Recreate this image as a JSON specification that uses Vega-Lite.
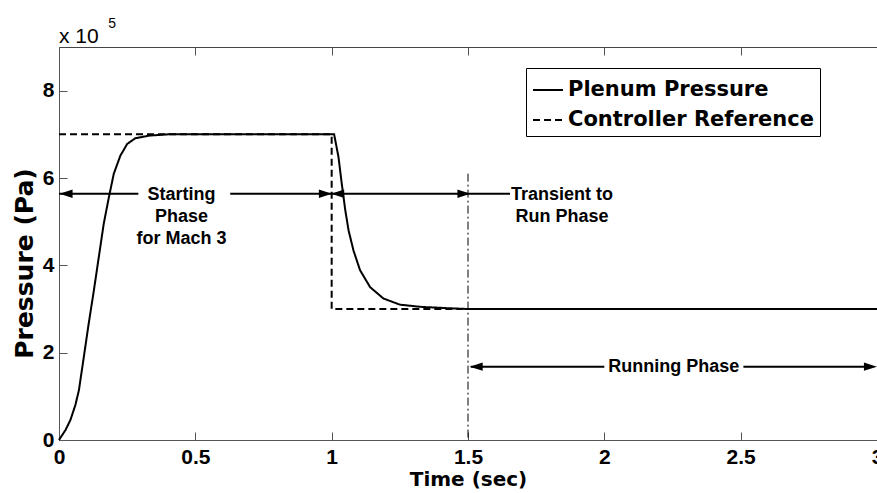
{
  "$schema": "https://vega.github.io/schema/vega-lite/v6.json",
  "width": 818,
  "height": 393,
  "autosize": "none",
  "padding": {"left": 59, "top": 47, "right": 0, "bottom": 53},
  "background": "white",
  "config": {
    "view": {"stroke": "#444", "strokeWidth": 1},
    "font": "Liberation Sans",
    "axis": {
      "grid": false,
      "domainColor": "#555",
      "tickColor": "#555",
      "tickSize": -8,
      "labelFlush": false,
      "labelFont": "Liberation Sans",
      "labelFontWeight": "bold",
      "labelFontSize": 21,
      "labelColor": "black",
      "titleFont": "DejaVu Sans",
      "titleFontWeight": "bold",
      "titleFontSize": 20,
      "titleColor": "black"
    },
    "text": {"font": "Liberation Sans", "fontWeight": "bold", "color": "black"}
  },
  "datasets": {
    "curves": [
      {"series": "Plenum Pressure", "o": 1, "t": 0, "p": 0},
      {"series": "Plenum Pressure", "o": 2, "t": 0.024, "p": 23000},
      {"series": "Plenum Pressure", "o": 3, "t": 0.042, "p": 46000},
      {"series": "Plenum Pressure", "o": 4, "t": 0.06, "p": 80000},
      {"series": "Plenum Pressure", "o": 5, "t": 0.073, "p": 114000},
      {"series": "Plenum Pressure", "o": 6, "t": 0.091, "p": 190000},
      {"series": "Plenum Pressure", "o": 7, "t": 0.109, "p": 267000},
      {"series": "Plenum Pressure", "o": 8, "t": 0.128, "p": 343000},
      {"series": "Plenum Pressure", "o": 9, "t": 0.146, "p": 419000},
      {"series": "Plenum Pressure", "o": 10, "t": 0.164, "p": 495000},
      {"series": "Plenum Pressure", "o": 11, "t": 0.183, "p": 556000},
      {"series": "Plenum Pressure", "o": 12, "t": 0.201, "p": 610000},
      {"series": "Plenum Pressure", "o": 13, "t": 0.225, "p": 651000},
      {"series": "Plenum Pressure", "o": 14, "t": 0.25, "p": 678000},
      {"series": "Plenum Pressure", "o": 15, "t": 0.28, "p": 691000},
      {"series": "Plenum Pressure", "o": 16, "t": 0.33, "p": 697000},
      {"series": "Plenum Pressure", "o": 17, "t": 0.4, "p": 700000},
      {"series": "Plenum Pressure", "o": 18, "t": 1.009, "p": 700000},
      {"series": "Plenum Pressure", "o": 19, "t": 1.025, "p": 648000},
      {"series": "Plenum Pressure", "o": 20, "t": 1.037, "p": 587000},
      {"series": "Plenum Pressure", "o": 21, "t": 1.05, "p": 526000},
      {"series": "Plenum Pressure", "o": 22, "t": 1.062, "p": 480000},
      {"series": "Plenum Pressure", "o": 23, "t": 1.08, "p": 434000},
      {"series": "Plenum Pressure", "o": 24, "t": 1.104, "p": 389000},
      {"series": "Plenum Pressure", "o": 25, "t": 1.141, "p": 350000},
      {"series": "Plenum Pressure", "o": 26, "t": 1.19, "p": 324000},
      {"series": "Plenum Pressure", "o": 27, "t": 1.25, "p": 310000},
      {"series": "Plenum Pressure", "o": 28, "t": 1.324, "p": 305000},
      {"series": "Plenum Pressure", "o": 29, "t": 1.42, "p": 302000},
      {"series": "Plenum Pressure", "o": 30, "t": 1.5, "p": 300000},
      {"series": "Plenum Pressure", "o": 31, "t": 3.0, "p": 300000},
      {"series": "Controller Reference", "o": 1, "t": 0, "p": 700000},
      {"series": "Controller Reference", "o": 2, "t": 1.0, "p": 700000},
      {"series": "Controller Reference", "o": 3, "t": 1.0, "p": 300000},
      {"series": "Controller Reference", "o": 4, "t": 3.0, "p": 300000}
    ],
    "marker": [{"t": 1.5, "p": 610000, "p0": 0}],
    "arrows": [
      {"t": 0.0, "t2": 0.291, "p": 564000},
      {"t": 0.628, "t2": 1.0, "p": 564000},
      {"t": 1.0, "t2": 1.654, "p": 564000},
      {"t": 1.51, "t2": 2.0, "p": 168000},
      {"t": 2.51, "t2": 2.98, "p": 168000}
    ],
    "heads": [
      {"t": 0.026, "p": 564000, "dir": "left"},
      {"t": 0.977, "p": 564000, "dir": "right"},
      {"t": 1.022, "p": 564000, "dir": "left"},
      {"t": 1.485, "p": 564000, "dir": "right"},
      {"t": 1.53, "p": 168000, "dir": "left"},
      {"t": 2.976, "p": 168000, "dir": "right"}
    ],
    "notes": [
      {"t": 0.449, "p": 560000, "label": "Starting\nPhase\nfor Mach 3"},
      {"t": 1.845, "p": 562000, "label": "Transient to\nRun Phase"},
      {"t": 2.255, "p": 168000, "label": "Running Phase"}
    ],
    "exponent": [
      {"t": 0, "p": 910000, "label": "x 10"}
    ],
    "exponent5": [
      {"t": 0.181, "p": 944000, "label": "5"}
    ]
  },
  "layer": [
    {
      "data": {"name": "curves"},
      "mark": {"type": "line", "color": "black", "strokeWidth": 2},
      "encoding": {
        "x": {
          "field": "t", "type": "quantitative",
          "scale": {"domain": [0, 3], "nice": false, "zero": false},
          "axis": {"orient": "bottom", "values": [0, 0.5, 1, 1.5, 2, 2.5, 3], "format": "~g", "labelPadding": 14, "title": "Time (sec)", "titlePadding": 2}
        },
        "y": {
          "field": "p", "type": "quantitative",
          "scale": {"domain": [0, 900000], "nice": false},
          "axis": {"values": [0, 200000, 400000, 600000, 800000], "labelExpr": "datum.value / 100000", "labelPadding": 13, "title": "Pressure (Pa)", "titleFontSize": 25, "titleX": -22, "titleY": 216, "titleAngle": -90, "titleBaseline": "bottom", "titleAlign": "center"}
        },
        "strokeDash": {
          "field": "series", "type": "nominal",
          "scale": {"domain": ["Plenum Pressure", "Controller Reference"], "range": [[1, 0], [7, 4]]},
          "legend": {
            "orient": "none", "legendX": 467, "legendY": 21, "title": null,
            "symbolType": "stroke", "symbolSize": 900, "symbolStrokeWidth": 2, "symbolStrokeColor": "black",
            "labelFontSize": 21, "labelFont": "DejaVu Sans", "labelFontWeight": "bold", "labelColor": "black",
            "labelOffset": 4, "labelLimit": 400, "padding": 6, "rowPadding": 4,
            "strokeColor": "black", "fillColor": "white"
          }
        },
        "order": {"field": "o", "type": "quantitative"}
      }
    },
    {
      "data": {"name": "marker"},
      "mark": {"type": "rule", "color": "black", "strokeWidth": 1, "strokeDash": [8, 3, 2, 3]},
      "encoding": {
        "x": {"field": "t", "type": "quantitative", "axis": {"orient": "top", "values": [0, 0.5, 1, 1.5, 2, 2.5, 3], "labels": false, "domain": false, "title": null}},
        "y": {"field": "p", "type": "quantitative"},
        "y2": {"field": "p0"}
      }
    },
    {
      "data": {"name": "arrows"},
      "mark": {"type": "rule", "color": "black", "strokeWidth": 2},
      "encoding": {
        "x": {"field": "t", "type": "quantitative", "axis": null},
        "x2": {"field": "t2"},
        "y": {"field": "p", "type": "quantitative"}
      }
    },
    {
      "data": {"name": "heads"},
      "mark": {"type": "point", "filled": true, "color": "black", "opacity": 1, "size": 169},
      "encoding": {
        "x": {"field": "t", "type": "quantitative", "axis": null},
        "y": {"field": "p", "type": "quantitative"},
        "shape": {"field": "dir", "type": "nominal", "legend": null,
          "scale": {"domain": ["left", "right"], "range": ["M1,-0.65L-1,0L1,0.65Z", "M-1,-0.65L1,0L-1,0.65Z"]}}
      }
    },
    {
      "data": {"name": "notes"},
      "mark": {"type": "text", "fontSize": 18, "lineHeight": 22, "lineBreak": "\n", "align": "center", "baseline": "middle", "fontWeight": "bold"},
      "encoding": {
        "x": {"field": "t", "type": "quantitative", "axis": null},
        "y": {"field": "p", "type": "quantitative"},
        "text": {"field": "label"}
      }
    },
    {
      "data": {"name": "exponent"},
      "mark": {"type": "text", "fontSize": 21, "align": "left", "baseline": "alphabetic", "fontWeight": "normal", "clip": false},
      "encoding": {
        "x": {"field": "t", "type": "quantitative", "axis": null},
        "y": {"field": "p", "type": "quantitative"},
        "text": {"field": "label"}
      }
    },
    {
      "data": {"name": "exponent5"},
      "mark": {"type": "text", "fontSize": 14, "align": "left", "baseline": "alphabetic", "fontWeight": "normal", "clip": false},
      "encoding": {
        "x": {"field": "t", "type": "quantitative", "axis": null},
        "y": {"field": "p", "type": "quantitative"},
        "text": {"field": "label"}
      }
    }
  ],
  "resolve": {"axis": {"x": "independent"}}
}
